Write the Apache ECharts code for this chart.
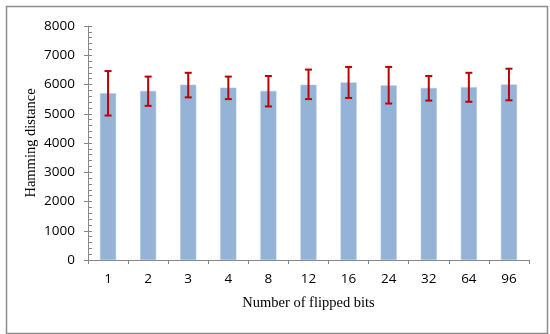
<!DOCTYPE html>
<html>
<head>
<meta charset="utf-8">
<script src="https://cdn.jsdelivr.net/npm/echarts@6/dist/echarts.min.js"></script>
<style>html,body{margin:0;padding:0;background:#fff}#c{width:550px;height:334px}</style>
</head>
<body>
<div id="c"></div>
<script>
var categories = ['1','2','3','4','8','12','16','24','32','64','96'];
var meanValues = [5700, 5780, 5990, 5890, 5780, 5990, 6070, 5970, 5880, 5910, 6000];
var errorLow   = [4940, 5270, 5560, 5500, 5250, 5500, 5540, 5350, 5450, 5410, 5460];
var errorHigh  = [6460, 6270, 6400, 6270, 6290, 6510, 6600, 6600, 6290, 6400, 6540];
var yTicks = [0, 1000, 2000, 3000, 4000, 5000, 6000, 7000, 8000];

var errData = categories.map(function(c, i){ return [i, errorLow[i], errorHigh[i]]; });

var chart = echarts.init(document.getElementById('c'), null, {renderer:'canvas'});
var axisColor = '#868686';
chart.setOption({
  animation: false,
  backgroundColor: '#fff',
  graphic: [{
    type: 'rect', left: 4, top: 4, z: -10,
    shape: {x: 0, y: 0, width: 541, height: 327},
    style: {fill: 'none', stroke: '#8c8c8c', lineWidth: 1.5}
  }],
  grid: {left: 88, right: 21, top: 26, bottom: 74, containLabel: false},
  xAxis: {
    type: 'category',
    data: categories,
    name: 'Number of flipped bits',
    nameLocation: 'middle',
    nameGap: 36,
    nameMoveOverlap: false,
    nameTextStyle: {fontFamily: 'Liberation Serif', fontSize: 14.5, color: '#000'},
    axisLine: {lineStyle: {color: axisColor, width: 1}},
    axisTick: {show: true, length: 4, lineStyle: {color: axisColor}, alignWithLabel: false},
    axisLabel: {fontFamily: 'Open Sans', fontSize: 13.5, color: '#000', margin: 12},
    splitLine: {show: false}
  },
  yAxis: [{
    type: 'value', min: yTicks[0], max: yTicks[yTicks.length-1], interval: 1000,
    name: 'Hamming distance',
    nameLocation: 'middle',
    nameGap: 49,
    nameMoveOverlap: false,
    nameRotate: 90,
    nameTextStyle: {fontFamily: 'Liberation Serif', fontSize: 14.5, color: '#000'},
    axisLine: {show: true, lineStyle: {color: axisColor, width: 1}},
    axisTick: {show: true, length: 4, lineStyle: {color: axisColor}},
    axisLabel: {fontFamily: 'Open Sans', fontSize: 13.5, color: '#000', margin: 13,
      formatter: function(v){ return String(v); }},
    splitLine: {show: false}
  }, {
    type: 'value', min: yTicks[0], max: yTicks[yTicks.length-1], interval: 1000,
    position: 'left', offset: 0,
    axisLine: {show: false},
    axisTick: {show: true, inside: true, length: 4, lineStyle: {color: axisColor}},
    minorTick: {show: true, splitNumber: 5, length: 4, lineStyle: {color: axisColor}},
    axisLabel: {show: false},
    splitLine: {show: false},
    minorSplitLine: {show: false}
  }],
  series: [{
    type: 'bar',
    data: meanValues,
    barWidth: 16,
    itemStyle: {color: '#95b3d7', borderColor: '#a9c2e0', borderWidth: 0.5},
    z: 2
  }, {
    type: 'custom',
    data: errData,
    z: 5,
    renderItem: function(params, api){
      var x = api.value(0);
      var lo = api.coord([x, api.value(1)]);
      var hi = api.coord([x, api.value(2)]);
      var hw = 3.5;
      var st = {stroke: '#c00000', lineWidth: 2};
      return {type: 'group', children: [
        {type: 'line', shape: {x1: lo[0], y1: lo[1], x2: hi[0], y2: hi[1]}, style: st},
        {type: 'line', shape: {x1: hi[0]-hw, y1: hi[1], x2: hi[0]+hw, y2: hi[1]}, style: st},
        {type: 'line', shape: {x1: lo[0]-hw, y1: lo[1], x2: lo[0]+hw, y2: lo[1]}, style: st}
      ]};
    }
  }]
});
</script>
</body>
</html>
